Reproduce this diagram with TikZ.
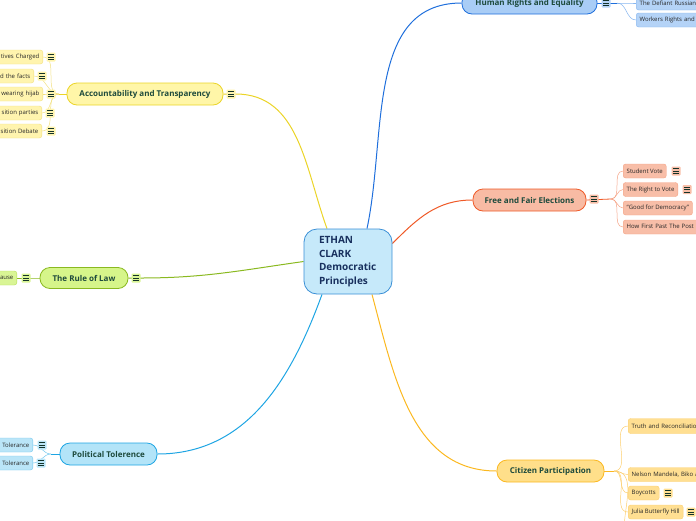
\documentclass[tikz,border=0pt]{standalone}
\usepackage{fontspec}
\setmainfont{Open Sans}
\usetikzlibrary{positioning,calc,backgrounds}
\definecolor{rootfill}{HTML}{C6E9FA}
\definecolor{rootline}{HTML}{3A8FD6}
\definecolor{roottext}{HTML}{18305E}
\definecolor{topictext}{HTML}{1D4A3C}
\definecolor{accfill}{HTML}{FFF6A8}
\definecolor{accline}{HTML}{EBD428}
\definecolor{accleaf}{HTML}{FFF4AE}
\definecolor{accleafline}{HTML}{F2E080}
\definecolor{hrfill}{HTML}{A9CDF6}
\definecolor{hrline}{HTML}{1F6FDC}
\definecolor{hrleaf}{HTML}{B4D3F7}
\definecolor{hrleafline}{HTML}{86B5EF}
\definecolor{elfill}{HTML}{F8BBA4}
\definecolor{elline}{HTML}{EF5A28}
\definecolor{elleaf}{HTML}{F8BEA8}
\definecolor{elleafline}{HTML}{F5A284}
\definecolor{rlfill}{HTML}{D6F58A}
\definecolor{rlline}{HTML}{8AB920}
\definecolor{rlleaf}{HTML}{D9F595}
\definecolor{rlleafline}{HTML}{B5DE58}
\definecolor{ptfill}{HTML}{B3E4F8}
\definecolor{ptline}{HTML}{1EA5E3}
\definecolor{ptleaf}{HTML}{BAE5F8}
\definecolor{ptleafline}{HTML}{74C8EE}
\definecolor{cpfill}{HTML}{FFDF8A}
\definecolor{cpline}{HTML}{FBB820}
\definecolor{cpleaf}{HTML}{FFDF92}
\definecolor{cpleafline}{HTML}{FCCF70}

\begin{document}
\begin{tikzpicture}[
  x=1pt, y=-1pt,
  every node/.style={font=\fontsize{6}{7}\selectfont, text=black!85},
  root/.style={draw=rootline, fill=rootfill, line width=0.8pt, rounded corners=13pt,
    minimum width=88pt, minimum height=65pt, text width=58pt, align=left,
    font=\bfseries\fontsize{10}{13.5}\selectfont, text=roottext},
  topic/.style={draw=#1line, fill=#1fill, line width=0.8pt, rounded corners=10pt,
    minimum height=22pt, inner xsep=4pt, font=\bfseries\fontsize{8}{9.5}\selectfont, text=topictext},
  leaf/.style={draw=#1leafline, fill=#1leaf, line width=0.4pt, rounded corners=2.5pt,
    minimum height=14pt, inner xsep=3.5pt, inner ysep=0pt},
  noteicon/.style={fill=#1, rounded corners=1pt, minimum width=9pt, minimum height=9pt, inner sep=0pt,
    path picture={\foreach \yy in {-2.4,0,2.4}
      \draw[line width=0.55pt, topictext!70!black]
        ([xshift=-3pt,yshift=\yy pt]path picture bounding box.center) --
        ([xshift=3pt,yshift=\yy pt]path picture bounding box.center);}},
  branch/.style={draw=#1, line width=1pt},
  twig/.style={draw=#1, line width=0.5pt}
]
  \useasboundingbox (0,0) rectangle (696,520);
  \clip (0,0) rectangle (696,520);

  % central topic
  \node[root] (root) at (348,261.5) {ETHAN\\CLARK\\Democratic\\Principles};

  % main topics
  \node[topic=acc, minimum width=156pt] (nAcc) at (145,94) {Accountability and Transparency};
  \node[topic=hr,  minimum width=135pt] (nHr)  at (529.5,3) {Human Rights and Equality};
  \node[topic=el,  minimum width=113pt] (nEl)  at (529.5,200) {Free and Fair Elections};
  \node[topic=rl,  minimum width=88pt, minimum height=21pt] (nRl) at (84,278) {The Rule of Law};
  \node[topic=pt,  minimum width=97pt] (nPt)  at (108.5,454) {Political Tolerence};
  \node[topic=cp,  minimum width=107pt] (nCp) at (550.5,471) {Citizen Participation};

  \node[noteicon=accleaf] (iAcc) at (231,94) {};
  \node[noteicon=hrleaf]  (iHr)  at (606,3) {};
  \node[noteicon=elleaf]  (iEl)  at (594,199) {};
  \node[noteicon=rlleaf]  (iRl)  at (136,278) {};

  % accountability leaves (cut at the left edge)
  \node[leaf=acc, anchor=east, text width=60pt, align=right] (nAcc1) at (43,57)  {tives Charged};
  \node[leaf=acc, anchor=east, text width=50pt, align=right] (nAcc2) at (34,76)  {d the facts};
  \node[leaf=acc, anchor=east, text width=60pt, align=right] (nAcc3) at (43,94)  {wearing hijab};
  \node[leaf=acc, anchor=east, text width=60pt, align=right] (nAcc4) at (42,113) {sition parties};
  \node[leaf=acc, anchor=east, text width=60pt, align=right] (nAcc5) at (42,131) {sition Debate};
  \node[noteicon=accleaf] (iAcc1) at (51,57)  {};
  \node[noteicon=accleaf] (iAcc2) at (42,76)  {};
  \node[noteicon=accleaf] (iAcc3) at (51,94)  {};
  \node[noteicon=accleaf] (iAcc4) at (50,113) {};
  \node[noteicon=accleaf] (iAcc5) at (51,131) {};
  \coordinate (jAcc) at (59,94);

  % human rights leaves (cut at the right edge)
  \node[leaf=hr, anchor=west, text width=80pt, align=left] (nHr1) at (636,3)  {The Defiant Russian};
  \node[leaf=hr, anchor=west, text width=80pt, align=left] (nHr2) at (636,20) {Workers Rights and};
  \coordinate (jHr) at (617,3);

  % elections leaves
  \node[leaf=el, anchor=west] (nEl1) at (623,171) {Student Vote};
  \node[leaf=el, anchor=west] (nEl2) at (623,189.5) {The Right to Vote};
  \node[leaf=el, anchor=west] (nEl3) at (623,208) {“Good for Democracy”};
  \node[leaf=el, anchor=west, text width=90pt, align=left] (nEl4) at (623,227) {How First Past The Post (};
  \node[noteicon=elleaf] (iEl1) at (676,171) {};
  \node[noteicon=elleaf] (iEl2) at (687,189.5) {};
  \coordinate (jEl) at (611,199);

  % rule of law leaf
  \node[leaf=rl, anchor=east, text width=30pt, align=right] (nRl1) at (17,278) {ause};
  \node[noteicon=rlleaf] (iRl1) at (26,278) {};
  \coordinate (jRl) at (33,278);

  % political tolerence leaves
  \node[leaf=pt, anchor=east, text width=45pt, align=right] (nPt1) at (33,445) {Tolerance};
  \node[leaf=pt, anchor=east, text width=45pt, align=right] (nPt2) at (33,463) {Tolerance};
  \node[noteicon=ptleaf] (iPt1) at (42,445) {};
  \node[noteicon=ptleaf] (iPt2) at (41,463) {};
  \coordinate (jPt) at (51,454);

  % citizen participation leaves
  \node[leaf=cp, anchor=west, minimum height=15pt, text width=90pt, align=left] (nCp1) at (628,426) {Truth and Reconciliatio};
  \node[leaf=cp, anchor=west, text width=90pt, align=left] (nCp2) at (628,474.5) {Nelson Mandela, Biko a};
  \node[leaf=cp, anchor=west] (nCp3) at (628,493) {Boycotts};
  \node[leaf=cp, anchor=west] (nCp4) at (628,512) {Julia Butterfly Hill};
  \node[noteicon=cpleaf] (iCp3) at (668,493) {};
  \node[noteicon=cpleaf] (iCp4) at (691,512) {};
  \coordinate (jCp) at (614,471);
  \coordinate (jCp5) at (624,530);

  \begin{scope}[on background layer]
    % branches from the centre
    \draw[branch=accline] (nAcc.east) -- (iAcc.east) to[out=0,in=110] ([xshift=-21pt]root.north);
    \draw[branch=hrline]  ([xshift=19pt]root.north) to[out=78,in=180] (nHr.west);
    \draw[branch=elline]  ([yshift=18pt]root.east) to[out=45,in=180] (nEl.west);
    \draw[branch=rlline]  (nRl.east) -- (iRl.east) to[out=0,in=188] (root.west);
    \draw[branch=ptline]  (nPt.east) to[out=0,in=250] ([xshift=-26pt]root.south);
    \draw[branch=cpline]  ([xshift=24pt]root.south) to[out=-75,in=180] (nCp.west);

    % twigs to the leaves
    \draw[twig=accline] (nAcc.west) -- (jAcc);
    \foreach \k in {1,...,5}
      \draw[twig=accleafline] (jAcc) to[out=180,in=0] (nAcc\k.east);
    \draw[twig=hrline, line width=0.8pt] (nHr.east) -- (jHr);
    \foreach \k in {1,2}
      \draw[twig=hrleafline] (jHr) to[out=0,in=180] (nHr\k.west);
    \draw[twig=elline, line width=0.8pt] (nEl.east) -- (jEl);
    \foreach \k in {1,...,4}
      \draw[twig=elleafline] (jEl) to[out=0,in=180] (nEl\k.west);
    \draw[twig=rlline] (nRl.west) -- (jRl) -- (nRl1.east);
    \draw[twig=ptline] (nPt.west) -- (jPt);
    \foreach \k in {1,2}
      \draw[twig=ptleafline] (jPt) to[out=180,in=0] (nPt\k.east);
    \draw[twig=cpline, line width=0.8pt] (nCp.east) -- (jCp);
    \foreach \k in {1,...,4}
      \draw[twig=cpleafline] (jCp) to[out=0,in=180] (nCp\k.west);
    \draw[twig=cpleafline] (jCp) to[out=0,in=90] (jCp5);
  \end{scope}
\end{tikzpicture}
\end{document}
